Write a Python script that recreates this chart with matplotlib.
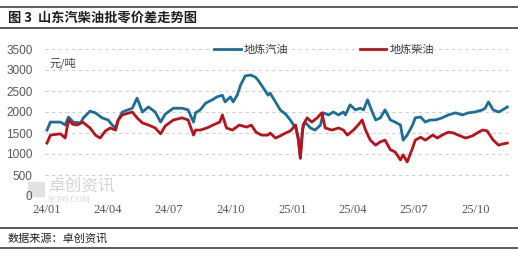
import pandas as pd
import matplotlib
matplotlib.use("Agg")
import matplotlib.pyplot as plt
from matplotlib.patches import Rectangle

plt.rcParams['font.family'] = ['Noto Sans CJK SC', 'DejaVu Sans']

# 地炼汽油 (blue), values, 元/吨
gas_dates = ["2024-01-02", "2024-01-07", "2024-01-22", "2024-01-29", "2024-02-03", "2024-02-10",
             "2024-02-21", "2024-02-25", "2024-03-06", "2024-03-14", "2024-03-24", "2024-04-02",
             "2024-04-08", "2024-04-13", "2024-04-17", "2024-04-23", "2024-05-08", "2024-05-15",
             "2024-05-23", "2024-06-01", "2024-06-11", "2024-06-19", "2024-06-26", "2024-07-08",
             "2024-07-21", "2024-07-30", "2024-08-07", "2024-08-10", "2024-08-17", "2024-08-25",
             "2024-09-04", "2024-09-11", "2024-09-19", "2024-09-23", "2024-10-01", "2024-10-05",
             "2024-10-11", "2024-10-16", "2024-10-23", "2024-10-31", "2024-11-07", "2024-11-11",
             "2024-11-19", "2024-11-26", "2024-11-29", "2024-12-07", "2024-12-14", "2024-12-22",
             "2024-12-29", "2025-01-06", "2025-01-10", "2025-01-13", "2025-01-16", "2025-01-20",
             "2025-01-28", "2025-02-04", "2025-02-12", "2025-02-16", "2025-02-24", "2025-03-03",
             "2025-03-11", "2025-03-18", "2025-03-21", "2025-03-28", "2025-04-05", "2025-04-12",
             "2025-04-17", "2025-04-23", "2025-04-30", "2025-05-05", "2025-05-12", "2025-05-19",
             "2025-05-27", "2025-06-03", "2025-06-11", "2025-06-15", "2025-06-21", "2025-06-29",
             "2025-07-03", "2025-07-11", "2025-07-18", "2025-07-25", "2025-08-02", "2025-08-12",
             "2025-08-21", "2025-09-01", "2025-09-11", "2025-09-20", "2025-09-30", "2025-10-11",
             "2025-10-15", "2025-10-20", "2025-10-27", "2025-11-04", "2025-11-10", "2025-11-17"]
gas_values = [1570, 1760, 1760, 1690, 1880, 1760,
              1740, 1860, 2020, 1980, 1860, 1810,
              1690, 1620, 1810, 2000, 2090, 2330,
              2000, 2120, 2000, 1760, 1950, 2090,
              2090, 2050, 1760, 1980, 2050, 2210,
              2290, 2360, 2400, 2240, 2360, 2240,
              2400, 2640, 2860, 2880, 2830, 2760,
              2570, 2400, 2450, 2240, 2050, 1950,
              1810, 1620, 1380, 900, 1570, 1760,
              1620, 1570, 1690, 1980, 1930, 2000,
              1930, 2000, 1930, 2170, 2050, 2090,
              2050, 2290, 2000, 1810, 1860, 2050,
              1810, 1760, 1690, 1330, 1450, 1690,
              1860, 1880, 1760, 1810, 1810, 1860,
              1930, 1980, 1930, 1980, 2000, 2050,
              2090, 2240, 2050, 2000, 2050, 2120]

# 地炼柴油 (red)
diesel_dates = ["2024-01-02", "2024-01-07", "2024-01-22", "2024-01-29", "2024-02-03", "2024-02-09",
                "2024-02-16", "2024-02-24", "2024-03-06", "2024-03-14", "2024-03-21", "2024-03-29",
                "2024-04-05", "2024-04-13", "2024-04-17", "2024-04-23", "2024-05-08", "2024-05-15",
                "2024-05-23", "2024-06-01", "2024-06-11", "2024-06-19", "2024-06-26", "2024-07-08",
                "2024-07-21", "2024-07-30", "2024-08-07", "2024-08-10", "2024-08-17", "2024-08-27",
                "2024-09-05", "2024-09-15", "2024-09-19", "2024-09-25", "2024-10-04", "2024-10-14",
                "2024-10-25", "2024-11-01", "2024-11-08", "2024-11-16", "2024-11-26", "2024-11-29",
                "2024-12-07", "2024-12-14", "2024-12-22", "2024-12-29", "2025-01-06", "2025-01-10",
                "2025-01-13", "2025-01-17", "2025-01-23", "2025-01-30", "2025-02-07", "2025-02-14",
                "2025-02-19", "2025-03-01", "2025-03-11", "2025-03-18", "2025-03-24", "2025-04-02",
                "2025-04-09", "2025-04-15", "2025-04-20", "2025-04-27", "2025-05-05", "2025-05-12",
                "2025-05-19", "2025-05-27", "2025-06-03", "2025-06-11", "2025-06-15", "2025-06-21",
                "2025-06-29", "2025-07-03", "2025-07-11", "2025-07-18", "2025-07-29", "2025-08-05",
                "2025-08-12", "2025-08-21", "2025-08-29", "2025-09-05", "2025-09-16", "2025-09-26",
                "2025-10-03", "2025-10-11", "2025-10-18", "2025-10-22", "2025-10-27", "2025-11-04",
                "2025-11-10", "2025-11-17"]
diesel_values = [1260, 1450, 1480, 1380, 1810, 1710,
                 1690, 1760, 1620, 1450, 1380, 1550,
                 1620, 1570, 1810, 1930, 2000, 1860,
                 1740, 1690, 1620, 1480, 1670, 1810,
                 1860, 1810, 1450, 1570, 1570, 1620,
                 1690, 1760, 1930, 1620, 1570, 1690,
                 1640, 1690, 1520, 1450, 1450, 1500,
                 1380, 1430, 1500, 1550, 1690, 1330,
                 900, 1690, 1860, 1760, 1860, 1980,
                 1620, 1570, 1620, 1570, 1450, 1570,
                 1690, 1810, 1570, 1330, 1210, 1290,
                 1330, 1100, 1050, 860, 980, 810,
                 1140, 1330, 1400, 1330, 1450, 1380,
                 1450, 1520, 1500, 1450, 1380, 1430,
                 1500, 1570, 1550, 1450, 1330, 1210,
                 1240, 1260]

tick_dates = ["2024-01-01", "2024-04-01", "2024-07-01", "2024-10-01",
              "2025-01-01", "2025-04-01", "2025-07-01", "2025-10-01"]
tick_labels = ["24/01", "24/04", "24/07", "24/10", "25/01", "25/04", "25/07", "25/10"]
y_ticks = [0, 500, 1000, 1500, 2000, 2500, 3000, 3500]

W, H = 518, 254
fig = plt.figure(figsize=(W / 100, H / 100), dpi=100)
fig.patch.set_facecolor("white")

def fx(px):
    return px / W

def fy(py):
    return 1 - py / H

ax = fig.add_axes([fx(45), fy(196), fx(510) - fx(45), fy(49) - fy(196)])

gas = pd.Series(gas_values, index=pd.to_datetime(gas_dates))
diesel = pd.Series(diesel_values, index=pd.to_datetime(diesel_dates))

blue = "#1c6e98"
red = "#b8121b"
ax.plot(gas.index, gas.values, color=blue, lw=2.0, label="地炼汽油", zorder=3)
ax.plot(diesel.index, diesel.values, color=red, lw=2.0, label="地炼柴油", zorder=3)

ax.set_ylim(0, 3500)
ax.set_xlim(pd.Timestamp("2023-12-30"), pd.Timestamp("2025-11-21"))
ax.set_yticks(y_ticks)
ax.set_yticklabels([str(v) for v in y_ticks], fontsize=8.5, color="#595959",
                   family=["Liberation Sans"])
ax.set_xticks(pd.to_datetime(tick_dates))
ax.set_xticklabels(tick_labels, fontsize=9, color="#595959", family=["Liberation Serif"])
ax.tick_params(axis="both", length=0)
ax.tick_params(axis="y", pad=9)
ax.tick_params(axis="x", pad=6)
for s in ax.spines.values():
    s.set_visible(False)
ax.grid(axis="y", color="#d0d0d0", ls=(0, (3, 3)), lw=0.8)
ax.set_axisbelow(True)

ax.text(0.01, 0.945, "元/吨", transform=ax.transAxes, fontsize=8, color="#404040",
        va="top", ha="left")

leg = ax.legend(loc="center", bbox_to_anchor=(fx(324), fy(50)), bbox_transform=fig.transFigure,
                ncol=2, frameon=False, fontsize=8, handlelength=2.4, columnspacing=6.4,
                handletextpad=0.3)
for t in leg.get_texts():
    t.set_color("#404040")

# watermark logo block + text
fig.add_artist(Rectangle((fx(28), fy(196)), fx(16), fy(182) - fy(196),
                         transform=fig.transFigure, color="#e2e2e2", zorder=0))
fig.text(fx(48), fy(186), "卓创资讯", fontsize=12, color="#d4d4d4", va="center", ha="left")
fig.text(fx(48), fy(200), "SCI99.COM", fontsize=6, color="#d4d4d4", va="center", ha="left",
         family=["Liberation Serif"])

# title and source bands
fig.add_artist(plt.Line2D([0, 1], [fy(7), fy(7)], color="#404040", lw=1.2))
fig.add_artist(plt.Line2D([0, 1], [fy(28), fy(28)], color="#404040", lw=1.2))
fig.add_artist(plt.Line2D([0, 1], [fy(228), fy(228)], color="#404040", lw=1.2))
fig.add_artist(plt.Line2D([0, 1], [fy(248), fy(248)], color="#404040", lw=1.2))
fig.text(fx(8), fy(17.5), "图 3  山东汽柴油批零价差走势图", fontsize=9.5, fontweight="bold",
         color="#202020", va="center", ha="left")
fig.text(fx(8), fy(238), "数据来源：卓创资讯", fontsize=8, color="#202020", va="center",
         ha="left", style="italic")

fig.savefig("out.png", dpi=100, facecolor="white")
